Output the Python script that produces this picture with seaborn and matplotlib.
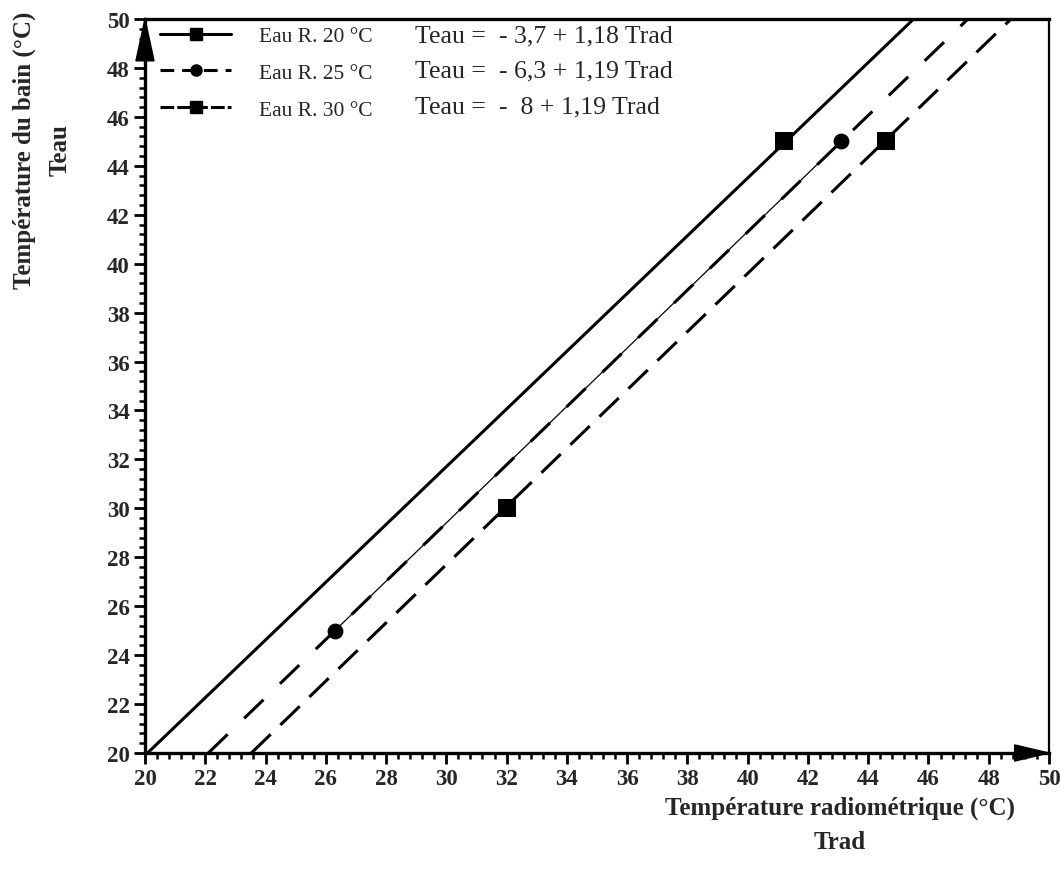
import numpy as np
import pandas as pd
import matplotlib
matplotlib.use("Agg")
import matplotlib.pyplot as plt
from matplotlib.lines import Line2D
from matplotlib.patches import Polygon
from matplotlib.ticker import MultipleLocator
import seaborn as sns

# Regression lines: Teau = intercept + slope * Trad
series = ["Eau R. 20 °C", "Eau R. 25 °C", "Eau R. 30 °C"]
intercepts = [-3.7, -6.3, -8.0]
slopes = [1.18, 1.19, 1.19]
equations = ["Teau =  - 3,7 + 1,18 Trad",
             "Teau =  - 6,3 + 1,19 Trad",
             "Teau =  -  8 + 1,19 Trad"]

# Measured points (radiometric temperature, bath temperature)
trad_20 = [41.2]
teau_20 = [45.0]
trad_25 = [26.3, 43.1]
teau_25 = [25.0, 45.0]
trad_30 = [32.0, 44.6]
teau_30 = [30.0, 45.0]

x_ticks = list(range(20, 51, 2))
y_ticks = list(range(20, 51, 2))

sns.set_theme(style="white")
plt.rcParams["font.family"] = ["Liberation Serif", "DejaVu Serif"]

fig = plt.figure(figsize=(10.6, 8.79), dpi=100)
ax = fig.add_axes([145 / 1060, 1 - 754 / 879, 904 / 1060, 734 / 879])

lw = 2.2
styles = ["-", (0, (8.8, 7.5)), (0, (8.8, 4.4))]
for name, a, b, ls in zip(series, intercepts, slopes, styles):
    x0 = (20 - a) / b
    x1 = (50 - a) / b
    df = pd.DataFrame({"Trad": [x0, x1]})
    df["Teau"] = a + b * df["Trad"]
    sns.lineplot(data=df, x="Trad", y="Teau", ax=ax, color="black",
                 lw=lw, linestyle=ls, legend=False)

# thin curve joining the 25 °C measurements
sns.lineplot(x=trad_25, y=teau_25, ax=ax, color="black", lw=0.9, legend=False)

sns.scatterplot(x=trad_20, y=teau_20, ax=ax, marker="s", s=150,
                color="black", edgecolor="black", linewidth=0, zorder=5)
sns.scatterplot(x=trad_25, y=teau_25, ax=ax, marker="o", s=130,
                color="black", edgecolor="black", linewidth=0, zorder=5)
sns.scatterplot(x=trad_30, y=teau_30, ax=ax, marker="s", s=150,
                color="black", edgecolor="black", linewidth=0, zorder=5)

ax.set_xlim(20, 50)
ax.set_ylim(20, 50)
ax.set_xticks(x_ticks)
ax.set_yticks(y_ticks)
ax.xaxis.set_minor_locator(MultipleLocator(0.4))
ax.yaxis.set_minor_locator(MultipleLocator(0.4))
ax.tick_params(which="major", direction="out", length=8, width=2,
               color="black", labelsize=16.5, pad=3)
ax.tick_params(which="minor", direction="out", length=4.5, width=1.8,
               color="black")
ax.tick_params(axis="x", which="both", bottom=True, top=False)
ax.tick_params(axis="y", which="both", left=True, right=False)
for lab in ax.get_xticklabels() + ax.get_yticklabels():
    lab.set_fontweight("bold")
ax.set_xlabel("")
ax.set_ylabel("")

for side in ["left", "bottom", "top"]:
    ax.spines[side].set_linewidth(2.4)
    ax.spines[side].set_color("black")
ax.spines["right"].set_linewidth(1.6)
ax.spines["right"].set_color("black")

# arrow heads at the ends of both axes
ax.add_patch(Polygon([[-0.010, 0.943], [0.010, 0.943], [0.0, 1.0]],
                     closed=True, transform=ax.transAxes, color="black",
                     clip_on=False, zorder=6))
ax.add_patch(Polygon([[0.962, -0.011], [0.962, 0.011], [1.0, 0.0]],
                     closed=True, transform=ax.transAxes, color="black",
                     clip_on=False, zorder=6))

handles = [
    Line2D([], [], color="black", lw=lw, linestyle="-", marker="s", markersize=9),
    Line2D([], [], color="black", lw=lw, linestyle=(0, (4.5, 2.6)), marker="o", markersize=8),
    Line2D([], [], color="black", lw=lw, linestyle=(0, (4.5, 1.0)), marker="s", markersize=8),
]
leg = ax.legend(handles, series, loc="upper left",
                bbox_to_anchor=(160 / 1060, 1 - 27 / 879),
                bbox_transform=fig.transFigure, frameon=False,
                fontsize=15.5, handlelength=3.3, handletextpad=1.3,
                labelspacing=0.78, borderpad=0, borderaxespad=0, numpoints=1)

for i, eq in enumerate(equations):
    fig.text(415 / 1060, 1 - (36 + 35.5 * i) / 879, eq, fontsize=18.5,
             va="center", ha="left")

fig.text(24 / 1060, 1 - 150 / 879, "Température du bain (°C)", rotation=90,
         fontsize=18, fontweight="bold", ha="center", va="center")
fig.text(60 / 1060, 1 - 150 / 879, "Teau", rotation=90,
         fontsize=18, fontweight="bold", ha="center", va="center")
fig.text(840 / 1060, 1 - 808 / 879, "Température radiométrique (°C)",
         fontsize=18, fontweight="bold", ha="center", va="center")
fig.text(840 / 1060, 1 - 843 / 879, "Trad",
         fontsize=18, fontweight="bold", ha="center", va="center")

fig.savefig("out.png", dpi=100, facecolor="white")
